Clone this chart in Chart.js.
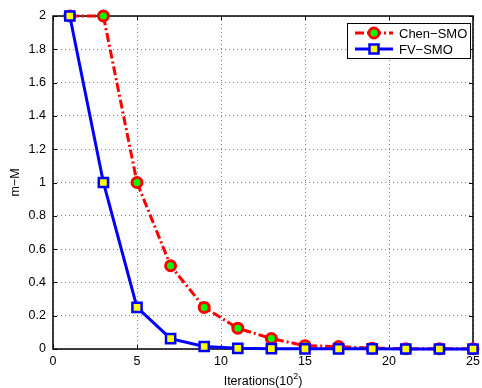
<!DOCTYPE html>
<html>
<head>
<meta charset="utf-8">
<script src="https://cdn.jsdelivr.net/npm/chart.js@4.4.0/dist/chart.umd.min.js"></script>
<style>
  html, body { margin: 0; padding: 0; background: #fff; }
  #wrap { width: 482px; height: 388px; }
</style>
</head>
<body>
<div id="wrap"><canvas id="c" width="482" height="388"></canvas></div>
<script>
// iterations (x 10^2) and m-M gap for both solvers
const iterations = [1, 3, 5, 7, 9, 11, 13, 15, 17, 19, 21, 23, 25];
const chenSmo = [2, 2, 1, 0.5, 0.25, 0.125, 0.0625, 0.02, 0.015, 0.005, 0.002, 0.001, 0.001];
const fvSmo = [2, 1, 0.25, 0.0625, 0.015, 0.004, 0.002, 0.001, 0.001, 0.001, 0, 0, 0];
const xTicks = [0, 5, 10, 15, 20, 25];
const yTicks = [0, 0.2, 0.4, 0.6, 0.8, 1, 1.2, 1.4, 1.6, 1.8, 2];

const FONT = "Liberation Sans, Arial, sans-serif";
const RED = '#ff0000';
const BLUE = '#0000ff';
const CHEN_DASH = [9, 3, 2, 3];

const toPts = (ys) => iterations.map((x, i) => ({ x, y: ys[i] }));

// frame, inward ticks, legend and axis titles (MATLAB look)
const decor = {
  id: 'decor',
  beforeDatasetsDraw(chart) {
    const { ctx, chartArea: a, scales } = chart;
    ctx.save();
    ctx.strokeStyle = '#000';
    ctx.lineWidth = 1;
    ctx.beginPath();
    xTicks.forEach((t) => {
      const px = Math.round(scales.x.getPixelForValue(t)) + 0.5;
      ctx.moveTo(px, a.bottom); ctx.lineTo(px, a.bottom - 4);
      ctx.moveTo(px, a.top); ctx.lineTo(px, a.top + 4);
    });
    yTicks.forEach((t) => {
      const py = Math.round(scales.y.getPixelForValue(t)) + 0.5;
      ctx.moveTo(a.left, py); ctx.lineTo(a.left + 4, py);
      ctx.moveTo(a.right, py); ctx.lineTo(a.right - 4, py);
    });
    ctx.stroke();
    ctx.lineWidth = 1.5;
    ctx.strokeRect(a.left, a.top, a.right - a.left, a.bottom - a.top);
    ctx.restore();
  },
  afterDraw(chart) {
    const { ctx, chartArea: a } = chart;
    ctx.save();
    // x title with superscript
    ctx.fillStyle = '#000';
    ctx.textBaseline = 'alphabetic';
    const main = 'Iterations(10', sup = '2', tail = ')';
    ctx.font = '12.5px ' + FONT;
    const w1 = ctx.measureText(main).width;
    const w3 = ctx.measureText(tail).width;
    ctx.font = '9px ' + FONT;
    const w2 = ctx.measureText(sup).width;
    const x0 = (a.left + a.right) / 2 - (w1 + w2 + w3) / 2;
    const base = 385;
    ctx.textAlign = 'left';
    ctx.font = '12.5px ' + FONT;
    ctx.fillText(main, x0, base);
    ctx.fillText(tail, x0 + w1 + w2, base);
    ctx.font = '9px ' + FONT;
    ctx.fillText(sup, x0 + w1, base - 6);

    // y title
    ctx.save();
    ctx.translate(19, (a.top + a.bottom) / 2);
    ctx.rotate(-Math.PI / 2);
    ctx.textAlign = 'center';
    ctx.font = '12.5px ' + FONT;
    ctx.fillText('m\u2212M', 0, 0);
    ctx.restore();

    // legend box
    const bx = 347, by = 23, bw = 123, bh = 35;
    ctx.fillStyle = '#fff';
    ctx.fillRect(bx, by, bw, bh);
    ctx.strokeStyle = '#000';
    ctx.lineWidth = 1;
    ctx.strokeRect(bx + 0.5, by + 0.5, bw, bh);

    const rows = [
      { label: 'Chen\u2212SMO', y: by + 10, color: RED, dash: CHEN_DASH, marker: 'circle' },
      { label: 'FV\u2212SMO', y: by + 26, color: BLUE, dash: [], marker: 'square' },
    ];
    rows.forEach((r) => {
      ctx.strokeStyle = r.color;
      ctx.lineWidth = 3;
      ctx.setLineDash(r.dash);
      ctx.beginPath();
      ctx.moveTo(bx + 8, r.y); ctx.lineTo(bx + 46, r.y);
      ctx.stroke();
      ctx.setLineDash([]);
      const mx = bx + 27;
      if (r.marker === 'circle') {
        ctx.beginPath();
        ctx.arc(mx, r.y, 5, 0, Math.PI * 2);
        ctx.fillStyle = '#00ff00';
        ctx.fill();
        ctx.lineWidth = 3;
        ctx.strokeStyle = RED;
        ctx.stroke();
      } else {
        ctx.fillStyle = '#ffff00';
        ctx.fillRect(mx - 4.5, r.y - 4.5, 9, 9);
        ctx.lineWidth = 2.5;
        ctx.strokeStyle = BLUE;
        ctx.strokeRect(mx - 4.5, r.y - 4.5, 9, 9);
      }
      ctx.fillStyle = '#000';
      ctx.font = '13px ' + FONT;
      ctx.textAlign = 'left';
      ctx.textBaseline = 'middle';
      ctx.fillText(r.label, bx + 52, r.y + 1);
    });
    ctx.restore();
  },
};

new Chart(document.getElementById('c'), {
  type: 'line',
  data: {
    datasets: [
      {
        label: 'Chen-SMO',
        data: toPts(chenSmo),
        borderColor: RED,
        borderWidth: 3,
        borderDash: CHEN_DASH,
        pointStyle: 'circle',
        pointRadius: 5,
        pointBorderWidth: 3,
        pointBorderColor: RED,
        pointBackgroundColor: '#00ff00',
        tension: 0,
        order: 1,
        clip: false,
      },
      {
        label: 'FV-SMO',
        data: toPts(fvSmo),
        borderColor: BLUE,
        borderWidth: 3,
        pointStyle: 'rect',
        pointRadius: 6.5,
        pointBorderWidth: 2.5,
        pointBorderColor: BLUE,
        pointBackgroundColor: '#ffff00',
        tension: 0,
        order: 0,
        clip: false,
      },
    ],
  },
  options: {
    responsive: false,
    animation: false,
    events: [],
    layout: { padding: { top: 16, right: 6, left: 0, bottom: 0 } },
    plugins: { legend: { display: false }, tooltip: { enabled: false } },
    scales: {
      x: {
        type: 'linear',
        min: 0,
        max: 25,
        afterFit: (s) => { s.height = 39; s.paddingLeft = 0; s.paddingRight = 0; },
        afterBuildTicks: (s) => { s.ticks = xTicks.map((v) => ({ value: v })); },
        grid: { color: 'rgba(0,0,0,0.5)', drawTicks: false },
        border: { display: false, dash: [1, 3] },
        ticks: { color: '#000', font: { family: FONT, size: 12.5 }, padding: 5, maxRotation: 0 },
      },
      y: {
        type: 'linear',
        min: 0,
        max: 2,
        afterFit: (s) => { s.width = 53; s.paddingTop = 0; s.paddingBottom = 0; },
        afterBuildTicks: (s) => { s.ticks = yTicks.map((v) => ({ value: v })); },
        grid: { color: 'rgba(0,0,0,0.5)', drawTicks: false },
        border: { display: false, dash: [1, 3] },
        ticks: {
          color: '#000',
          font: { family: FONT, size: 12.5 },
          padding: 7,
          callback: (v) => String(Math.round(v * 10) / 10),
        },
      },
    },
  },
  plugins: [decor],
});
</script>
</body>
</html>
